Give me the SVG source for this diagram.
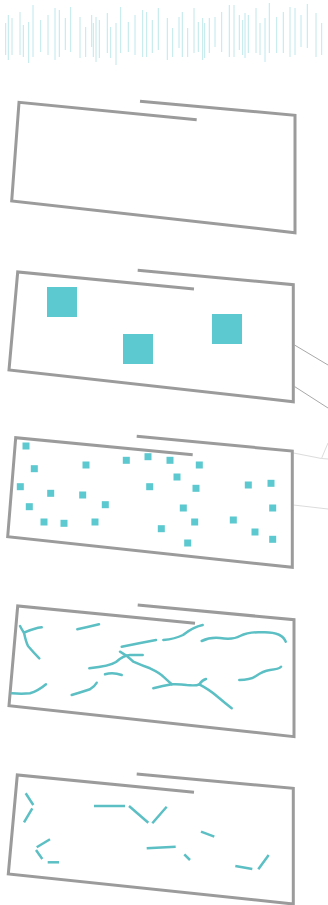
<svg xmlns="http://www.w3.org/2000/svg" width="328" height="905" viewBox="0 0 328 905">
<style>
.frame{fill:none;stroke:#9b9b9b;stroke-width:3;stroke-linejoin:miter}
.sq{fill:#5bc9cf}
.crv{fill:none;stroke:#5bbfc4;stroke-width:2.5;stroke-linecap:round;stroke-linejoin:round}
.seg{fill:none;stroke:#5bbfc4;stroke-width:2.5;stroke-linecap:butt}
.bar{stroke:#bfe8ec;stroke-width:1}
.conn{fill:none;stroke:#a8a8a8;stroke-width:1}
.conn2{fill:none;stroke:#dcdcdc;stroke-width:1}
</style>
<rect width="328" height="905" fill="#ffffff"/>
<g id="barcode">
<line class="bar" x1="5.7" y1="23" x2="5.7" y2="55"/>
<line class="bar" x1="8.3" y1="15" x2="8.3" y2="60"/>
<line class="bar" x1="12" y1="18" x2="12" y2="55"/>
<line class="bar" x1="20" y1="12" x2="20" y2="55"/>
<line class="bar" x1="23.3" y1="25" x2="23.3" y2="57"/>
<line class="bar" x1="28.7" y1="22" x2="28.7" y2="63"/>
<line class="bar" x1="33" y1="5" x2="33" y2="57"/>
<line class="bar" x1="40.7" y1="20" x2="40.7" y2="52"/>
<line class="bar" x1="48" y1="15" x2="48" y2="55"/>
<line class="bar" x1="55" y1="8" x2="55" y2="60"/>
<line class="bar" x1="59.3" y1="10" x2="59.3" y2="57"/>
<line class="bar" x1="65.3" y1="18" x2="65.3" y2="50"/>
<line class="bar" x1="70.7" y1="7" x2="70.7" y2="52"/>
<line class="bar" x1="80" y1="17" x2="80" y2="58"/>
<line class="bar" x1="85.7" y1="27" x2="85.7" y2="57"/>
<line class="bar" x1="91.7" y1="15" x2="91.7" y2="47"/>
<line class="bar" x1="93.3" y1="23" x2="93.3" y2="57"/>
<line class="bar" x1="96" y1="17" x2="96" y2="62"/>
<line class="bar" x1="99.3" y1="20" x2="99.3" y2="58"/>
<line class="bar" x1="107.3" y1="13" x2="107.3" y2="53"/>
<line class="bar" x1="110.7" y1="27" x2="110.7" y2="58"/>
<line class="bar" x1="116" y1="23" x2="116" y2="65"/>
<line class="bar" x1="120.7" y1="7" x2="120.7" y2="53"/>
<line class="bar" x1="128.3" y1="22" x2="128.3" y2="52"/>
<line class="bar" x1="135" y1="15" x2="135" y2="55"/>
<line class="bar" x1="142.7" y1="10" x2="142.7" y2="57"/>
<line class="bar" x1="146.7" y1="12" x2="146.7" y2="57"/>
<line class="bar" x1="152.3" y1="20" x2="152.3" y2="53"/>
<line class="bar" x1="158.3" y1="8" x2="158.3" y2="50"/>
<line class="bar" x1="167.3" y1="18" x2="167.3" y2="60"/>
<line class="bar" x1="172.7" y1="28" x2="172.7" y2="57"/>
<line class="bar" x1="179" y1="17" x2="179" y2="48"/>
<line class="bar" x1="182.3" y1="12" x2="182.3" y2="57"/>
<line class="bar" x1="187.7" y1="28" x2="187.7" y2="57"/>
<line class="bar" x1="194" y1="8" x2="194" y2="53"/>
<line class="bar" x1="198.3" y1="22" x2="198.3" y2="52"/>
<line class="bar" x1="202.7" y1="18" x2="202.7" y2="60"/>
<line class="bar" x1="204.7" y1="23" x2="204.7" y2="58"/>
<line class="bar" x1="209.3" y1="18" x2="209.3" y2="53"/>
<line class="bar" x1="215" y1="17" x2="215" y2="47"/>
<line class="bar" x1="221.7" y1="12" x2="221.7" y2="52"/>
<line class="bar" x1="229.3" y1="5" x2="229.3" y2="57"/>
<line class="bar" x1="234" y1="5" x2="234" y2="57"/>
<line class="bar" x1="239.3" y1="15" x2="239.3" y2="50"/>
<line class="bar" x1="242.7" y1="20" x2="242.7" y2="55"/>
<line class="bar" x1="245" y1="13" x2="245" y2="58"/>
<line class="bar" x1="248.3" y1="15" x2="248.3" y2="53"/>
<line class="bar" x1="256" y1="8" x2="256" y2="53"/>
<line class="bar" x1="260" y1="23" x2="260" y2="55"/>
<line class="bar" x1="265" y1="18" x2="265" y2="62"/>
<line class="bar" x1="269.3" y1="3" x2="269.3" y2="53"/>
<line class="bar" x1="276.7" y1="17" x2="276.7" y2="53"/>
<line class="bar" x1="283.3" y1="12" x2="283.3" y2="53"/>
<line class="bar" x1="290" y1="7" x2="290" y2="57"/>
<line class="bar" x1="295" y1="8" x2="295" y2="55"/>
<line class="bar" x1="301" y1="15" x2="301" y2="47"/>
<line class="bar" x1="307.3" y1="4" x2="307.3" y2="48"/>
<line class="bar" x1="316" y1="13" x2="316" y2="57"/>
<line class="bar" x1="321.7" y1="23" x2="321.7" y2="55"/>
</g>
<g id="connectors">
<line class="conn" x1="294.5" y1="345" x2="328" y2="365"/>
<line class="conn" x1="294.5" y1="386.5" x2="328" y2="408"/>
<polyline class="conn2" points="293.5,453 321.5,458.5 328,443"/>
<line class="conn2" x1="321.5" y1="458.5" x2="328" y2="459"/>
<line class="conn2" x1="293.5" y1="505" x2="328" y2="509"/>
</g>
<g id="panel1">
<polyline class="frame" points="140,101.3 295,115.3 295,232.7 11.7,201 19,102.3 196.7,119.7"/>
</g>
<g id="panel2">
<polyline class="frame" points="137.7,270.3 293.3,284.7 293.3,401.7 9,370 17.7,272 194,289"/>
<rect class="sq" x="47" y="287" width="30" height="30"/>
<rect class="sq" x="123" y="334" width="30" height="30"/>
<rect class="sq" x="212" y="314" width="30" height="30"/>
</g>
<g id="panel3">
<polyline class="frame" points="136.7,436.3 292.3,451 292.3,567.3 7.7,536.7 15.7,437.7 192.7,454.7"/>
<g transform="translate(-3.5,-3.5)">
<rect class="sq" x="26" y="446" width="7" height="7"/>
<rect class="sq" x="34.3" y="468.7" width="7" height="7"/>
<rect class="sq" x="86" y="465" width="7" height="7"/>
<rect class="sq" x="126.3" y="460.3" width="7" height="7"/>
<rect class="sq" x="148" y="456.7" width="7" height="7"/>
<rect class="sq" x="170" y="460.3" width="7" height="7"/>
<rect class="sq" x="199.3" y="465" width="7" height="7"/>
<rect class="sq" x="177" y="477" width="7" height="7"/>
<rect class="sq" x="20.3" y="486.7" width="7" height="7"/>
<rect class="sq" x="50.7" y="493.3" width="7" height="7"/>
<rect class="sq" x="82.7" y="495" width="7" height="7"/>
<rect class="sq" x="149.7" y="486.7" width="7" height="7"/>
<rect class="sq" x="196" y="488.3" width="7" height="7"/>
<rect class="sq" x="248.3" y="485" width="7" height="7"/>
<rect class="sq" x="271" y="483.3" width="7" height="7"/>
<rect class="sq" x="29.3" y="506.7" width="7" height="7"/>
<rect class="sq" x="105.3" y="504.7" width="7" height="7"/>
<rect class="sq" x="183.3" y="508" width="7" height="7"/>
<rect class="sq" x="272.7" y="508" width="7" height="7"/>
<rect class="sq" x="44" y="522" width="7" height="7"/>
<rect class="sq" x="64" y="523.3" width="7" height="7"/>
<rect class="sq" x="95" y="522" width="7" height="7"/>
<rect class="sq" x="194.7" y="522" width="7" height="7"/>
<rect class="sq" x="233.3" y="520" width="7" height="7"/>
<rect class="sq" x="161.3" y="528.7" width="7" height="7"/>
<rect class="sq" x="255" y="532" width="7" height="7"/>
<rect class="sq" x="272.7" y="539.3" width="7" height="7"/>
<rect class="sq" x="187.7" y="543" width="7" height="7"/>
</g>
</g>
<g id="panel4">
<polyline class="frame" points="137.7,605 294,619.7 294,736.7 9,705.7 17.7,606 195,623.3"/>
<path class="crv" d="M20,626 Q22,630 24,632.7 Q35,628 41.7,627.3"/>
<path class="crv" d="M24,632.7 Q26,642 28,646 Q33,652 39.3,658.3"/>
<path class="crv" d="M77.3,629.3 Q88,627 99,624.3"/>
<path class="crv" d="M121.7,646.7 Q140,643 156,640"/>
<path class="crv" d="M163.3,640 Q175,639 183,635 Q193,627 202.7,625"/>
<path class="crv" d="M201.7,641 Q210,637 220,638 Q233,640 240,636 Q248,632 260,632.3 Q282,631 285.7,641.7"/>
<path class="crv" d="M89.3,668.3 Q110,666 116,662 Q124,655 130,655 L142.7,655"/>
<path class="crv" d="M120,651.7 Q128,656 133.3,661.7 Q143,666 150,668.3 Q160,673 163.3,676.7 Q168,681 171.7,684.3"/>
<path class="crv" d="M105,674.3 Q113,672 121.7,675"/>
<path class="crv" d="M153.3,688.3 Q163,686 171.7,684.3 Q180,684 186.7,685 Q196,686 199.3,684.3 Q202,680 206,679"/>
<path class="crv" d="M199.3,684.3 Q210,690 216.7,696 Q225,703 231.7,708.3"/>
<path class="crv" d="M239.3,680 Q250,680 256,676 Q263,671 270,670 Q279,669 281,666.7"/>
<path class="crv" d="M11.7,693.3 Q22,694 30,693.3 Q38,691 46,684.3"/>
<path class="crv" d="M71.7,695 Q82,692 90,689.3 Q95,686 96.7,682.7"/>
</g>
<g id="panel5">
<polyline class="frame" points="136.7,774 293.3,788.3 293.3,904 8.3,874 17.3,775 194,792.3"/>
<line class="seg" x1="25.7" y1="793.3" x2="33.3" y2="805"/>
<line class="seg" x1="32.3" y1="808.3" x2="24" y2="822.3"/>
<line class="seg" x1="94" y1="806" x2="125" y2="806"/>
<line class="seg" x1="129" y1="806" x2="148.3" y2="822.7"/>
<line class="seg" x1="152.3" y1="823.3" x2="166.7" y2="806.7"/>
<line class="seg" x1="201" y1="831.7" x2="214.3" y2="836.7"/>
<line class="seg" x1="50" y1="839.3" x2="36.7" y2="847.3"/>
<line class="seg" x1="36" y1="850" x2="42.3" y2="859"/>
<line class="seg" x1="47.7" y1="862.3" x2="59" y2="862.3"/>
<line class="seg" x1="146.7" y1="848.3" x2="175.7" y2="846.7"/>
<line class="seg" x1="184.3" y1="854.3" x2="190" y2="860"/>
<line class="seg" x1="235.3" y1="866" x2="252.3" y2="869"/>
<line class="seg" x1="258.3" y1="869.3" x2="268.7" y2="855"/>
</g>
</svg>
